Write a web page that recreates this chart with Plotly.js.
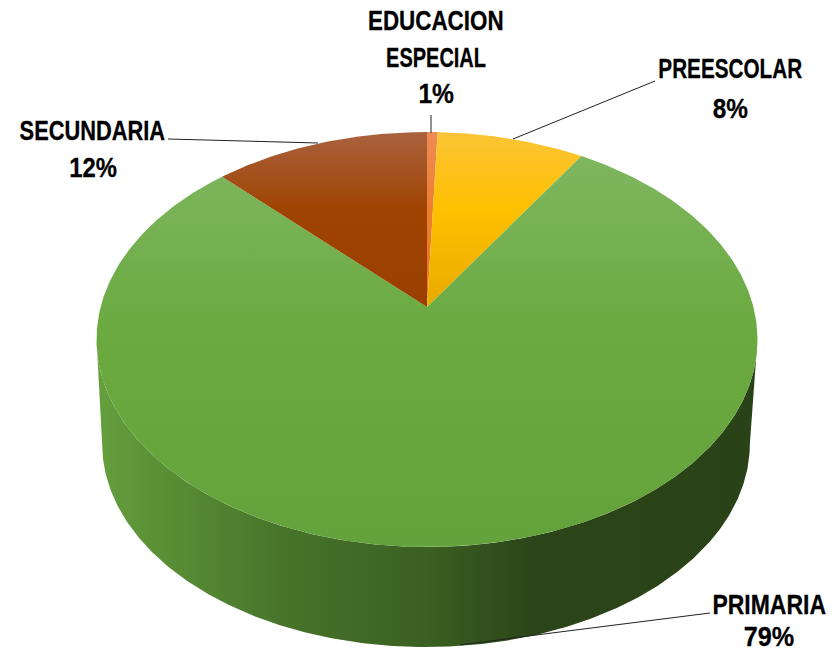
<!DOCTYPE html>
<html>
<head>
<meta charset="utf-8">
<script src="https://cdn.plot.ly/plotly-3.0.1.min.js"></script>
<style>html,body{margin:0;padding:0;background:#fff}#chart{width:840px;height:653px}</style>
</head>
<body>
<div id="chart"></div>
<script>
// Data, clockwise from twelve o'clock
const categories = ['EDUCACION<br>ESPECIAL', 'PREESCOLAR', 'PRIMARIA', 'SECUNDARIA'];
const values = [0.6, 8.4, 78.7, 12.3];

// Styles: gradient stops for the top face of each slice
const faceStops = [
  ['#ee8c54', '#ed7d31', '#e8761f'],
  ['#fbc436', '#ffc000', '#e9aa00'],
  ['#7eb65e', '#6aaa40', '#64a23b'],
  ['#aa623f', '#9e4300', '#9a3f00']
];
const faceStart = [132, 132, 158, 132];
const faceStop = [307, 307, 547, 307];
const sideStops = [[0, '#659f3d'], [0.28, '#47742a'], [0.5, '#3a6022'], [0.66, '#2b4518'], [1, '#2a4217']];

// Projection of the round pie onto the page
const apex = {x: 427, y: 307}, spanX = 326.4, spanY = 202.4, tilt = 0.1566;
const base = {x: 426, y: 411.8, scale: 0.98};

function project(deg, c, s) {
  const t = deg * Math.PI / 180, u = Math.sin(t), v = Math.cos(t), w = 1 + tilt * v;
  return [c.x + s * spanX * u / w, c.y - s * spanY * v / w];
}

function range(from, to) {
  const out = [], n = Math.max(2, Math.ceil(Math.abs(to - from) * 2));
  for (let i = 0; i <= n; i++) out.push(from + (to - from) * i / n);
  return out;
}

const traces = [];

// Side wall: lower rim from the left extreme around the front to the right extreme
const wide = Math.acos(-tilt) * 180 / Math.PI;
const lower = range(360 - wide, wide).map(d => project(d, base, base.scale));
const upper = range(wide, 360 - wide).map(d => project(d, apex, 1));
const wall = lower.concat(upper);
traces.push({
  type: 'scatter', mode: 'lines', x: wall.map(p => p[0]), y: wall.map(p => p[1]),
  fill: 'toself', line: {width: 0},
  fillgradient: {type: 'horizontal', colorscale: sideStops, start: 96, stop: 757},
  hoverinfo: 'skip'
});

// Top face: one wedge per value
const total = values.reduce((a, b) => a + b, 0);
let acc = 0;
values.forEach((val, i) => {
  const a0 = acc / total * 360, a1 = (acc + val) / total * 360;
  acc += val;
  const rim = range(a0, a1).map(d => project(d, apex, 1));
  const pts = [[apex.x, apex.y]].concat(rim, [[apex.x, apex.y]]);
  traces.push({
    type: 'scatter', mode: 'lines', x: pts.map(p => p[0]), y: pts.map(p => p[1]),
    fill: 'toself', line: {width: 0},
    fillgradient: {
      type: 'vertical',
      colorscale: [[0, faceStops[i][0]], [0.45, faceStops[i][1]], [1, faceStops[i][2]]],
      start: faceStart[i], stop: faceStop[i]
    },
    name: categories[i].replace('<br>', ' '), text: Math.round(val) + '%', hoverinfo: 'name+text'
  });
});

// Labels: each line placed and narrowed on its own [centre x, centre y, squeeze]
const lineStyle = [
  [[435.5, 20, 0.80], [436, 57, 0.714], [436, 93, 0.88]],
  [[730, 68, 0.74], [730.5, 108, 0.87]],
  [[768.5, 604, 0.82], [768.5, 636, 0.9]],
  [[92.5, 130, 0.78], [92.5, 167, 0.85]]
];
const annotations = [], squeezes = [];
categories.forEach((c, i) => {
  const lines = c.split('<br>').concat(Math.round(values[i] / total * 100) + '%');
  lines.forEach((t, j) => {
    const s = lineStyle[i][j];
    squeezes.push(s[2]);
    annotations.push({
      xref: 'x', yref: 'y', x: s[0], y: s[1], xanchor: 'center', yanchor: 'middle',
      showarrow: false, align: 'center', text: t,
      font: {family: '"Liberation Sans", sans-serif', size: 28, color: '#000', weight: 700}
    });
  });
});

// Leader lines
const leaders = [
  [[431, 115], [431, 133]],
  [[513, 139], [655, 81]],
  [[710, 613], [536, 635], [460, 645]],
  [[168, 139], [318, 143]]
];
const shapes = [];
leaders.forEach(l => {
  for (let i = 0; i < l.length - 1; i++) {
    shapes.push({type: 'line', xref: 'x', yref: 'y', x0: l[i][0], y0: l[i][1], x1: l[i + 1][0], y1: l[i + 1][1],
      line: {color: '#222', width: 1}, layer: 'above'});
  }
});

// The reference lettering is condensed: narrow each label line around its own centre
const css = document.createElement('style');
css.textContent = squeezes.map((k, i) =>
  `.annotation[data-index="${i}"] .annotation-text{transform-box:fill-box;transform-origin:center;transform:scaleX(${k});stroke:#000;stroke-width:.3px}`
).join('\n');
document.head.appendChild(css);

const hidden = {visible: false, fixedrange: true};
Plotly.newPlot('chart', traces, {
  width: 840, height: 653, margin: {l: 0, r: 0, t: 0, b: 0},
  paper_bgcolor: '#fff', plot_bgcolor: '#fff', showlegend: false,
  xaxis: Object.assign({range: [0, 840]}, hidden),
  yaxis: Object.assign({range: [653, 0]}, hidden),
  annotations, shapes
}, {displayModeBar: false, staticPlot: true});
</script>
</body>
</html>
